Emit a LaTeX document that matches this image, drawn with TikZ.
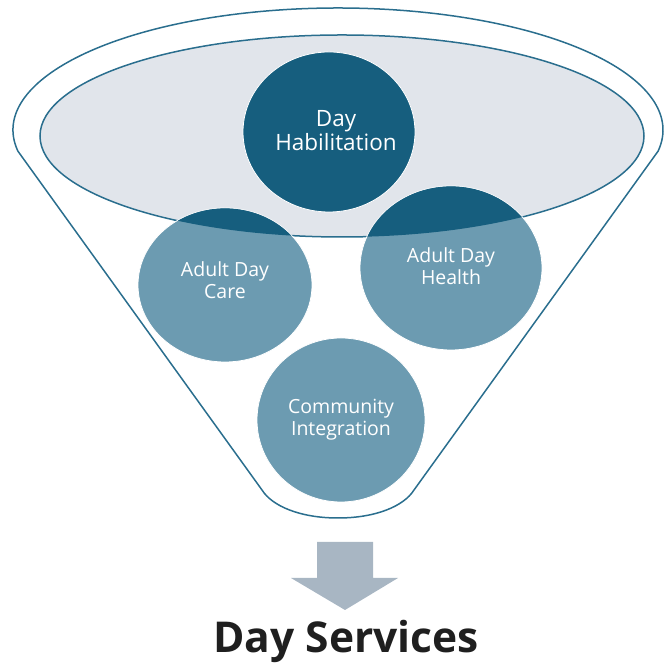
\documentclass[tikz,border=0pt]{standalone}
\usepackage{fontspec}
\setmainfont{Open Sans}
\newfontfamily\titlefont{Open Sans}
\usetikzlibrary{shapes.geometric}
\definecolor{rimblue}{HTML}{2A6E8E}
\definecolor{darkcirc}{HTML}{165E7E}
\definecolor{medcirc}{HTML}{6C9BB1}
\definecolor{bowlfill}{HTML}{E1E5EB}
\definecolor{arrowgray}{HTML}{A8B6C3}
\tikzset{
  rim/.style={draw=rimblue, line width=1.5pt},
  circtext/.style={text=white, align=center, font=\fontsize{19.5}{22}\selectfont},
}
\begin{document}
\begin{tikzpicture}[x=1pt,y=1pt]
\useasboundingbox (0,0) rectangle (663,668);
% funnel outline
\draw[rim, line join=round] (338,538) ++(190:325 and 122) arc[start angle=190, end angle=-10, x radius=325, y radius=122]
  -- (414,178) .. controls (404,162) and (376,150) .. (338,150)
  .. controls (300,150) and (272,162) .. (262,178) -- cycle;
% bowl
\path[rim, fill=bowlfill] (342,532) ellipse[x radius=302, y radius=101];
% circles
\path[fill=darkcirc, draw=white, line width=0.8pt] (329,536) ellipse[x radius=86, y radius=80];
\path[fill=medcirc, draw=white, line width=0.8pt] (225,383) ellipse[x radius=87, y radius=77];
\path[fill=medcirc, draw=white, line width=0.8pt] (451,400) ellipse[x radius=91, y radius=82];
\path[fill=medcirc, draw=white, line width=0.8pt] (341,248) ellipse[x radius=84, y radius=82];
\begin{scope}
  \clip (342,532) ellipse[x radius=302, y radius=101];
  \fill[darkcirc] (225,383) ellipse[x radius=86.6, y radius=76.6];
  \fill[darkcirc] (451,400) ellipse[x radius=90.6, y radius=81.6];
\end{scope}
% texts
\node[circtext, font=\fontsize{22.5}{24}\selectfont] (dayhab) at (336,537) {Day\\Habilitation};
\node[circtext] (adc) at (225,388) {Adult Day\\Care};
\node[circtext] (adh) at (451,402) {Adult Day\\Health};
\node[circtext] (ci) at (341,248) {Community\\Integration};
% arrow
\fill[arrowgray] (317,126) -- (373,126) -- (373,90) -- (398,90) -- (345,58) -- (291,90) -- (317,90) -- cycle;
\node[anchor=base, inner sep=0pt, font=\titlefont\bfseries\fontsize{42.5}{42.5}\selectfont, text=black!88] (title) at (346,15) {Day Services};
\end{tikzpicture}
\end{document}
